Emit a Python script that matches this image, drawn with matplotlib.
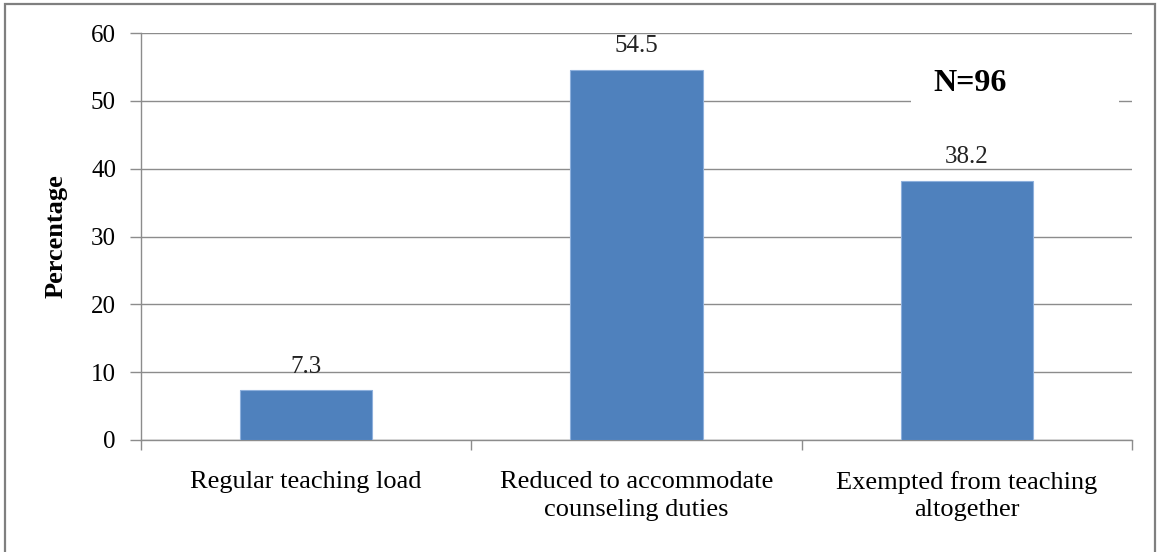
import matplotlib
matplotlib.use("Agg")
import matplotlib.pyplot as plt
from matplotlib.patches import Rectangle

# data
categories = ["Regular teaching load",
              "Reduced to accommodate\ncounseling duties",
              "Exempted from teaching\naltogether"]
values = [7.3, 54.5, 38.2]
value_labels = ["7.3", "54.5", "38.2"]
y_ticks = [0, 10, 20, 30, 40, 50, 60]
note = "N=96"

plt.rcParams['font.family'] = ['Liberation Serif', 'DejaVu Serif']

fig = plt.figure(figsize=(11.58, 5.52), dpi=100)
# outer frame around the whole chart
fig.patches.append(Rectangle((5/1158, -0.01), 1150/1158, 1.01 - 4/552,
                             transform=fig.transFigure, fill=False,
                             edgecolor="#7f7f7f", linewidth=1.6))

ax = fig.add_axes([141/1158, 1 - 440/552, 991/1158, 407/552])
x = list(range(len(values)))
ax.bar(x, values, width=0.4, color="#4F81BD", edgecolor="#8EB0DC", linewidth=0.8, zorder=3)

for xi, v, lab in zip(x, values, value_labels):
    ax.text(xi, v + 1.9, lab, ha="center", va="bottom", fontsize=18, color="#222222", zorder=4)

ax.set_xlim(-0.5, 2.5)
ax.set_ylim(0, 60)
ax.set_yticks(y_ticks)
ax.set_yticklabels([str(t) for t in y_ticks], fontsize=18)
ax.yaxis.grid(True, color="#8c8c8c", linewidth=1.0, zorder=0)
ax.set_axisbelow(True)

ax.set_xticks([-0.5, 0.5, 1.5, 2.5], minor=False)
ax.set_xticklabels([])
ax.set_xticks(x, minor=True)
ax.set_xticklabels(categories, minor=True, fontsize=19, linespacing=1.35)
ax.tick_params(axis="x", which="minor", length=0, pad=22)
ax.tick_params(axis="x", which="major", length=7, color="#8c8c8c", width=1.0)
ax.tick_params(axis="y", length=8, color="#8c8c8c", width=1.0, pad=10)

for s in ["top", "right"]:
    ax.spines[s].set_visible(False)
for s in ["left", "bottom"]:
    ax.spines[s].set_color("#8c8c8c")
    ax.spines[s].set_linewidth(1.0)

ax.set_ylabel("Percentage", fontsize=19, fontweight="bold", labelpad=17)

ax.text(2.01, 52.6, note, ha="center", va="center", fontsize=23, fontweight="bold",
        zorder=5)
# white patch hiding the gridline behind the note
ax.add_patch(Rectangle((1.83, 48.5), 0.63, 7.5, facecolor="white", edgecolor="none", zorder=1))

fig.savefig("out.png", dpi=100)
